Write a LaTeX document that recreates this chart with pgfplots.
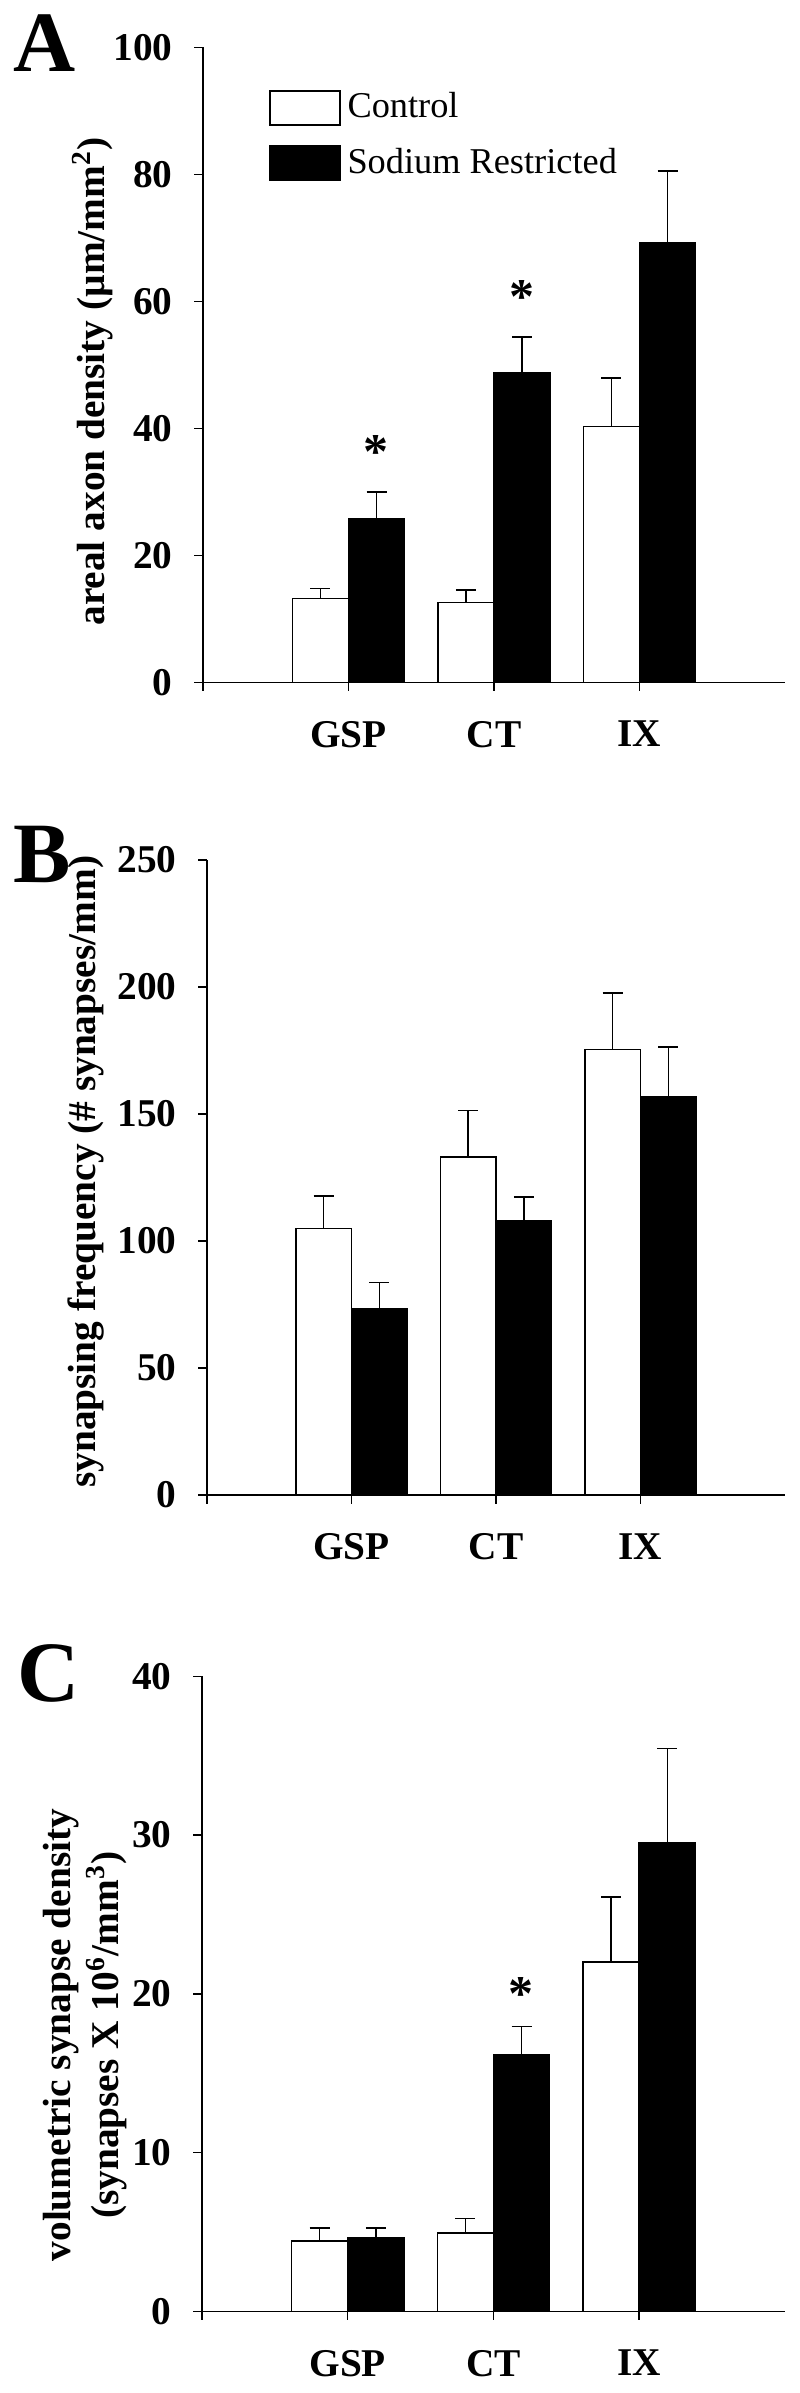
\documentclass[border=0pt]{standalone}
\usepackage{fontspec}
\setmainfont{Liberation Serif}
\usepackage{pgfplots}
\pgfplotsset{compat=1.18}

\newcommand\tf{\fontsize{11.8}{14.4}\selectfont\bfseries}

\pgfplotsset{
  panel/.style={
    scale only axis, height=190.5pt,
    xmin=0, xmax=4, ymin=0,
    axis x line=bottom, axis y line=left,
    axis line style={-, line width=0.45pt},
    ybar=0pt, bar width=0.385,
    xtick={0,1,2,3}, xticklabels={,GSP,CT,IX},
    tick align=outside, major tick length=2.6pt,
    tick style={line width=0.45pt, black},
    /pgf/number format/assume math mode=true,
    ticklabel style={font=\tf},
    yticklabel style={xshift=-3pt},
    xticklabel style={yshift=-5.5pt},
    label style={font=\tf},
    ylabel style={anchor=center, align=center},
    error bars/y dir=plus, error bars/y explicit,
    error bars/error bar style={line width=0.45pt, black},
    error bars/error mark options={rotate=90, mark size=3pt, line width=0.45pt, black},
    legend image code/.code={\draw[#1, line width=0.6pt] (0pt,-5pt) rectangle (21pt,5pt);},
  },
  ctrl/.style={draw=black, fill=white, line width=0.45pt},
  sod/.style={draw=black, fill=black, line width=0.45pt},
}

\begin{document}
\begin{tikzpicture}
\path[use as bounding box] (0,0) rectangle (240pt,717.9pt);

% panel A
\begin{axis}[panel, at={(60.9pt,513.2pt)}, anchor=origin, width=174.6pt,
  ymax=100, ytick={0,20,...,100},
  ylabel={areal axon density (µm/mm\textsuperscript{2})},
  ylabel style={at={(axis description cs:-0.19,0.474)}},
  legend style={draw=none, fill=none, at={(0.112,0.94)}, anchor=north west,
    inner sep=0pt, row sep=3.5pt, font=\fontsize{10.9}{12}\selectfont},
  legend cell align=left]
\addplot[ctrl] coordinates {(1,13.2) +- (0,1.6) (2,12.6) +- (0,1.9) (3,40.3) +- (0,7.6)};
\addplot[sod] coordinates {(1,25.8) +- (0,4.2) (2,48.7) +- (0,5.7) (3,69.3) +- (0,11.2)};
\legend{Control, Sodium Restricted}
\node[font=\fontsize{15}{15}\selectfont\bfseries] at (axis cs:1.19,36.2) {*};
\node[font=\fontsize{15}{15}\selectfont\bfseries] at (axis cs:2.19,60.7) {*};
\end{axis}

% panel B
\begin{axis}[panel, at={(62.1pt,269.4pt)}, anchor=origin, width=173.4pt,
  ymax=250, ytick={0,50,...,250},
  ylabel={synapsing frequency (\# synapses/mm)},
  ylabel style={at={(axis description cs:-0.21,0.509)}}]
\addplot[ctrl] coordinates {(1,105) +- (0,12.8) (2,133) +- (0,18.4) (3,175.3) +- (0,22.3)};
\addplot[sod] coordinates {(1,73.4) +- (0,10.3) (2,107.8) +- (0,9.6) (3,156.7) +- (0,19.7)};
\end{axis}

% panel C
\begin{axis}[panel, at={(60.6pt,24.5pt)}, anchor=origin, width=174.9pt,
  ymax=40, ytick={0,10,...,40},
  ylabel={volumetric synapse density\\(synapses X 10\textsuperscript{6}/mm\textsuperscript{3})},
  ylabel style={at={(axis description cs:-0.2,0.435)}}]
\addplot[ctrl] coordinates {(1,4.44) +- (0,0.8) (2,4.94) +- (0,0.91) (3,22.0) +- (0,4.1)};
\addplot[sod] coordinates {(1,4.61) +- (0,0.63) (2,16.17) +- (0,1.77) (3,29.5) +- (0,5.95)};
\node[font=\fontsize{15}{15}\selectfont\bfseries] at (axis cs:2.19,20.0) {*};
\end{axis}

\node[anchor=base west, inner sep=0pt, font=\fontsize{25.8}{26}\selectfont\bfseries] at (3.9pt,696.3pt) {A};
\node[anchor=base west, inner sep=0pt, font=\fontsize{25.8}{26}\selectfont\bfseries] at (3.9pt,453pt) {B};
\node[anchor=base west, inner sep=0pt, font=\fontsize{25.8}{26}\selectfont\bfseries] at (5.1pt,207.3pt) {C};
\end{tikzpicture}
\end{document}
